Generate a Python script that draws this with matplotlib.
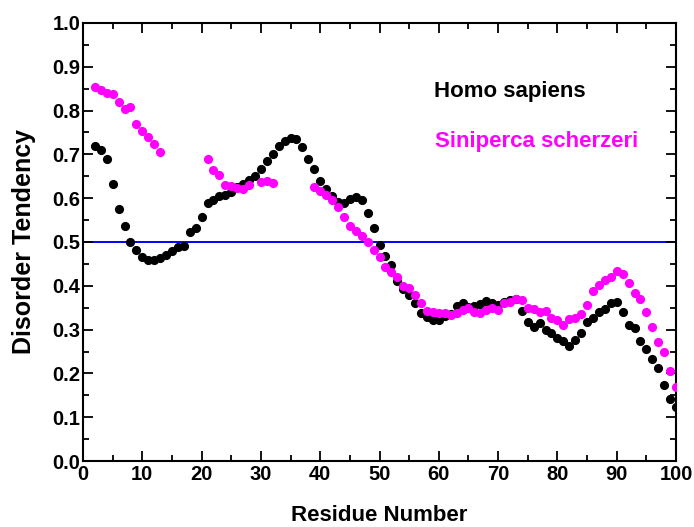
import numpy as np
import matplotlib
matplotlib.use("Agg")
import matplotlib.pyplot as plt

plt.rcParams['font.family'] = ['Liberation Sans', 'DejaVu Sans']
plt.rcParams['font.weight'] = 'bold'

residues = list(range(2, 101))

homo = [0.720, 0.710, 0.690, 0.632, 0.576, 0.536, 0.500, 0.481, 0.466, 0.460,
        0.460, 0.463, 0.471, 0.480, 0.489, 0.492, 0.523, 0.531, 0.557, 0.590,
        0.596, 0.604, 0.607, 0.614, 0.625, 0.632, 0.642, 0.651, 0.667, 0.686,
        0.701, 0.719, 0.731, 0.738, 0.734, 0.718, 0.689, 0.666, 0.640, 0.620,
        0.606, 0.591, 0.590, 0.598, 0.602, 0.595, 0.567, 0.531, 0.493, 0.468,
        0.447, 0.410, 0.392, 0.379, 0.360, 0.337, 0.328, 0.322, 0.323, 0.330,
        0.335, 0.355, 0.360, 0.352, 0.354, 0.358, 0.365, 0.360, 0.356, 0.362,
        0.368, 0.370, 0.343, 0.318, 0.305, 0.316, 0.299, 0.293, 0.280, 0.275,
        0.263, 0.276, 0.293, 0.318, 0.326, 0.341, 0.346, 0.361, 0.364, 0.341,
        0.311, 0.303, 0.275, 0.255, 0.233, 0.212, 0.174, 0.141, 0.123]

nan = float('nan')
siniperca = [0.854, 0.846, 0.840, 0.839, 0.820, 0.804, 0.809, 0.769, 0.753, 0.740,
             0.724, 0.706, nan, nan, nan, nan, nan, nan, nan, 0.689,
             0.664, 0.652, 0.630, 0.628, 0.624, 0.620, 0.630, nan, 0.636, 0.640,
             0.634, nan, nan, nan, nan, nan, nan, 0.625, 0.617, 0.607,
             0.597, 0.581, 0.556, 0.537, 0.526, 0.513, 0.499, 0.481, 0.466, 0.444,
             0.432, 0.421, 0.400, 0.394, 0.379, 0.361, 0.343, 0.341, 0.339, 0.337,
             0.334, 0.339, 0.345, 0.349, 0.341, 0.337, 0.345, 0.349, 0.345, 0.360,
             0.362, 0.369, 0.368, 0.349, 0.346, 0.341, 0.342, 0.327, 0.322, 0.311,
             0.324, 0.326, 0.336, 0.356, 0.389, 0.402, 0.413, 0.419, 0.434, 0.428,
             0.407, 0.383, 0.369, 0.341, 0.305, 0.272, 0.250, 0.206, 0.168]

threshold = 0.5
x_ticks = list(range(0, 101, 10))
y_ticks = [0.0, 0.1, 0.2, 0.3, 0.4, 0.5, 0.6, 0.7, 0.8, 0.9, 1.0]

fig = plt.figure(figsize=(6.94, 5.27), dpi=100)
ax = fig.add_axes([0.1196, 0.1252, 0.8545, 0.8312])

ax.axhline(threshold, color='#0000ff', lw=1.4, zorder=1)
ax.plot(residues, homo, 'o', color='black', ms=6.6, mec='none', zorder=2)
ax.plot(residues, siniperca, 'o', color='#ff00ff', ms=6.6, mec='none', zorder=3)

ax.set_xlim(0, 100)
ax.set_ylim(0, 1.0)
ax.set_xticks(x_ticks)
ax.set_yticks(y_ticks)
ax.set_xticks(np.arange(5, 100, 10), minor=True)
ax.set_yticks(np.arange(0.05, 1.0, 0.1), minor=True)
ax.set_yticklabels([f"{v:.1f}" for v in y_ticks])
ax.tick_params(which='both', direction='in', top=True, right=True, width=1.3,
               labelsize=14.5)
ax.tick_params(which='major', length=7)
ax.tick_params(which='minor', length=4)
ax.tick_params(axis='y', pad=2)
ax.tick_params(axis='x', pad=3)
for lbl in ax.get_xticklabels() + ax.get_yticklabels():
    lbl.set_fontweight('bold')
for s in ax.spines.values():
    s.set_linewidth(1.5)

ax.set_xlabel('Residue Number', fontsize=16, fontweight='bold', labelpad=15)
ax.set_ylabel('Disorder Tendency', fontsize=18, fontweight='bold', labelpad=12)

ax.text(59.2, 0.843, 'Homo sapiens', color='black', fontsize=16, fontweight='bold',
        va='center', ha='left')
ax.text(59.3, 0.729, 'Siniperca scherzeri', color='#ff00ff', fontsize=16,
        fontweight='bold', va='center', ha='left')

fig.savefig('out.png', dpi=100)
